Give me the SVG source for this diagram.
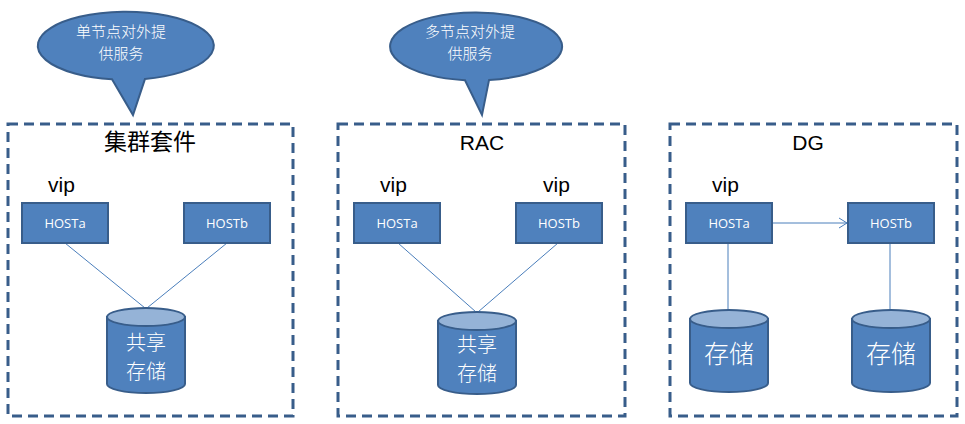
<svg xmlns="http://www.w3.org/2000/svg" width="965" height="424" viewBox="0 0 965 424">
<defs>
<style>
.panel{fill:none;stroke:#385D8A;stroke-width:3;stroke-dasharray:10 6}
.host{fill:#4F81BD;stroke:#385D8A;stroke-width:2}
.hostt{font-family:"Open Sans","Liberation Sans",sans-serif;font-size:13px;fill:#fff;text-anchor:middle}
.title{font-family:"Liberation Sans","Noto Sans CJK SC",sans-serif;font-size:21px;fill:#000;text-anchor:middle}
.vip{font-family:"Liberation Sans",sans-serif;font-size:21px;fill:#000}
.cylb{fill:#4F81BD;stroke:#385D8A;stroke-width:2}
.cylt{fill:#95B3D7;stroke:#385D8A;stroke-width:2}
.cylx{font-family:"Noto Sans CJK SC",sans-serif;font-size:20px;fill:#fff;text-anchor:middle;font-weight:300}
.bub{fill:#4F81BD;stroke:#385D8A;stroke-width:2}
.bubt{font-family:"Noto Sans CJK SC",sans-serif;font-size:15px;fill:#fff;text-anchor:middle;font-weight:300}
.conn{stroke:#4A7EBB;stroke-width:1;fill:none}
</style>
<marker id="arr" markerWidth="12" markerHeight="12" refX="10" refY="6" orient="auto" markerUnits="userSpaceOnUse">
<path d="M2,1 L10,6 L2,11" fill="none" stroke="#4A7EBB" stroke-width="1"/>
</marker>
</defs>
<rect width="965" height="424" fill="#fff"/>

<g id="bubble1">
<path class="bub" d="M145,78.9 L133,115 L112,79.3 A88,34 0 1 1 145,78.9 Z"/>
<text class="bubt"><tspan x="121" y="37">单节点对外提</tspan><tspan x="121" y="59">供服务</tspan></text>
</g>
<g id="bubble2">
<path class="bub" d="M489,80.1 L482,115 L465,80.2 A86,34 0 1 1 489,80.1 Z"/>
<text class="bubt"><tspan x="470" y="37">多节点对外提</tspan><tspan x="470" y="59">供服务</tspan></text>
</g>

<g id="panel1">
<rect class="panel" x="8" y="124" width="285" height="292"/>
<text class="title" x="150" y="150" style="font-size:23px">集群套件</text>
</g>
<g id="panel2">
<rect class="panel" x="338" y="124" width="287" height="292"/>
<text class="title" x="482" y="150">RAC</text>
</g>
<g id="panel3">
<rect class="panel" x="670" y="124" width="287" height="292"/>
<text class="title" x="808" y="150">DG</text>
</g>

<g id="connectors">
<line class="conn" x1="65" y1="243" x2="145" y2="308"/>
<line class="conn" x1="227" y1="243" x2="147" y2="308"/>
<line class="conn" x1="398" y1="243" x2="476" y2="312"/>
<line class="conn" x1="558" y1="243" x2="478" y2="312"/>
<line class="conn" x1="728" y1="243" x2="728" y2="310"/>
<line class="conn" x1="890" y1="243" x2="890" y2="310"/>
<line class="conn" x1="773" y1="223" x2="847" y2="223" marker-end="url(#arr)"/>
</g>

<g id="p1-hosta">
<text class="vip" x="48" y="192">vip</text>
<rect class="host" x="22" y="203" width="86" height="40"/>
<text class="hostt" x="65" y="228">HOSTa</text>
</g>
<g id="p1-hostb">
<rect class="host" x="184" y="203" width="86" height="40"/>
<text class="hostt" x="227" y="228">HOSTb</text>
</g>
<g id="p1-storage">
<path class="cylb" d="M107,317 L107,384 A39,9 0 0 0 185,384 L185,317 Z"/>
<ellipse class="cylt" cx="146" cy="317" rx="39" ry="9"/>
<text class="cylx"><tspan x="146" y="350">共享</tspan><tspan x="146" y="379">存储</tspan></text>
</g>

<g id="p2-hosta">
<text class="vip" x="380" y="192">vip</text>
<rect class="host" x="354" y="203" width="86" height="40"/>
<text class="hostt" x="397" y="228">HOSTa</text>
</g>
<g id="p2-hostb">
<text class="vip" x="543" y="192">vip</text>
<rect class="host" x="516" y="203" width="86" height="40"/>
<text class="hostt" x="559" y="228">HOSTb</text>
</g>
<g id="p2-storage">
<path class="cylb" d="M438,321 L438,385 A39,9 0 0 0 516,385 L516,321 Z"/>
<ellipse class="cylt" cx="477" cy="321" rx="39" ry="9"/>
<text class="cylx"><tspan x="477" y="352">共享</tspan><tspan x="477" y="381">存储</tspan></text>
</g>

<g id="p3-hosta">
<text class="vip" x="712" y="192">vip</text>
<rect class="host" x="686" y="203" width="86" height="40"/>
<text class="hostt" x="729" y="228">HOSTa</text>
</g>
<g id="p3-hostb">
<rect class="host" x="848" y="203" width="86" height="40"/>
<text class="hostt" x="891" y="228">HOSTb</text>
</g>
<g id="p3-storage-a">
<path class="cylb" d="M690,319 L690,383 A39,9 0 0 0 768,383 L768,319 Z"/>
<ellipse class="cylt" cx="729" cy="319" rx="39" ry="9"/>
<text class="cylx" x="729" y="363" style="font-size:25px">存储</text>
</g>
<g id="p3-storage-b">
<path class="cylb" d="M852,319 L852,383 A39,9 0 0 0 930,383 L930,319 Z"/>
<ellipse class="cylt" cx="891" cy="319" rx="39" ry="9"/>
<text class="cylx" x="891" y="363" style="font-size:25px">存储</text>
</g>
</svg>
